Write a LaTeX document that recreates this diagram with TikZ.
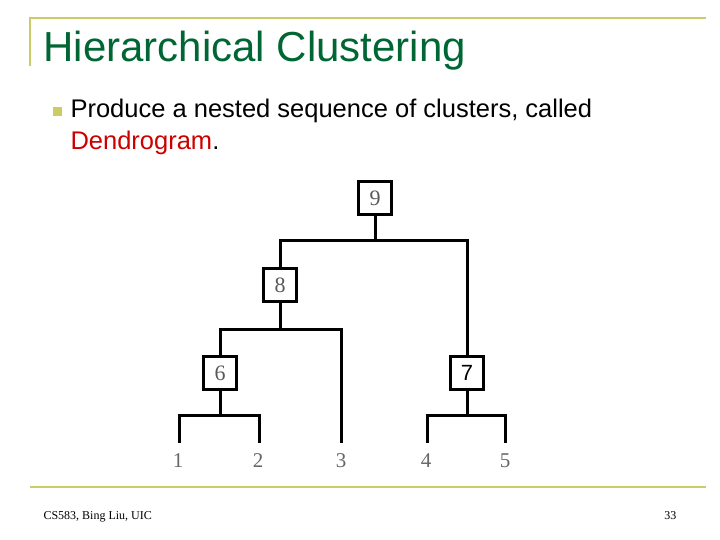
\documentclass[tikz,border=0pt]{standalone}
\usepackage{fontspec}
\setmainfont{Liberation Sans}
\newfontfamily\tms{Liberation Serif}
\definecolor{frame}{RGB}{204,204,102}
\definecolor{ttl}{RGB}{0,102,51}
\definecolor{dred}{RGB}{204,0,0}
\begin{document}
\begin{tikzpicture}[x=1pt,y=-1pt,
  tl/.style={line width=3pt},
  bx/.style={draw,line width=3pt,minimum size=33pt,inner sep=0pt,font=\tms\fontsize{22}{22}\selectfont,text=black!65},
  lf/.style={font=\tms\fontsize{21}{21}\selectfont,text=black!60}]
\useasboundingbox (0,0) rectangle (720,540);
\draw[frame,line width=2pt] (30,66) -- (30,18) -- (706,18);
\draw[frame,line width=2pt] (30,487) -- (706,487);
\node[anchor=west,text=ttl,font=\fontsize{42}{42}\selectfont] (title) at (40,51) {Hierarchical Clustering};
\node[fill=frame,minimum size=9pt,inner sep=0pt] (bul) at (57,112) {};
\node[anchor=west,font=\fontsize{25.5}{25.5}\selectfont] (t1) at (67,111) {Produce a nested sequence of clusters, called};
\node[anchor=west,font=\fontsize{25.5}{25.5}\selectfont] (t2) at (67,143) {\textcolor{dred}{Dendrogram}.};
\node[anchor=west,font=\tms\fontsize{12}{12}\selectfont] (f1) at (40,517) {CS583, Bing Liu, UIC};
\node[anchor=east,font=\tms\fontsize{12}{12}\selectfont] (f2) at (680,516) {33};
\node[bx] (n9) at (375,198) {9};
\node[bx] (n8) at (280,285) {8};
\node[bx] (n6) at (220,373) {6};
\node[bx,text=black,font=\fontsize{22}{22}\selectfont] (n7) at (467,373) {7};
\node[lf] (l1) at (178,461) {1};
\node[lf] (l2) at (258,461) {2};
\node[lf] (l3) at (341,461) {3};
\node[lf] (l4) at (426,461) {4};
\node[lf] (l5) at (505,461) {5};
\coordinate (e1) at (179,443); \coordinate (e2) at (259,443);
\coordinate (e3) at (341,443); \coordinate (e4) at (427,443); \coordinate (e5) at (505,443);
\draw[tl] (n9.south) -- (375,240);
\draw[tl] (n8.north) -- (280,240) -- (467,240) -- (467,357);
\draw[tl] (n8.south) -- (280,329);
\draw[tl] (n6.north) -- (220,329) -- (341,329) -- (e3);
\draw[tl] (n6.south) -- (220,415);
\draw[tl] (e1) -- (179,415) -- (259,415) -- (e2);
\draw[tl] (n7.south) -- (467,415);
\draw[tl] (e4) -- (427,415) -- (505,415) -- (e5);
\end{tikzpicture}
\end{document}
